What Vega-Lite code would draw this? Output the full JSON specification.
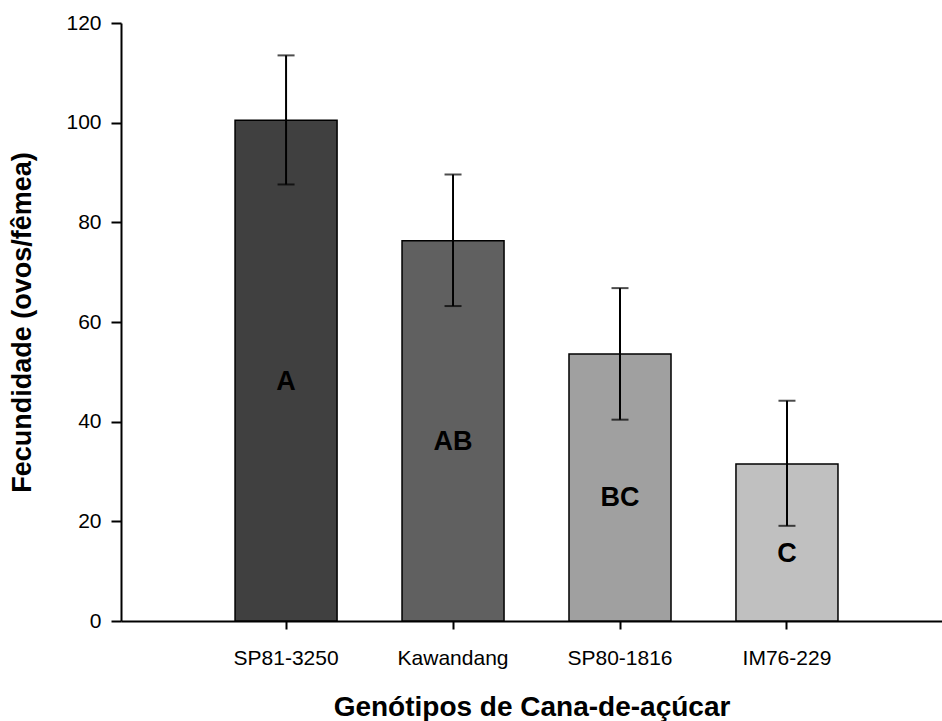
{
  "$schema": "https://vega.github.io/schema/vega-lite/v6.json",
  "width": 821,
  "height": 598,
  "autosize": {"type": "none"},
  "padding": {"left": 121, "top": 23, "right": 0, "bottom": 100},
  "background": "white",
  "config": {
    "view": {"stroke": null},
    "font": "Liberation Sans",
    "axis": {
      "grid": false,
      "domainColor": "black",
      "domainWidth": 2,
      "tickColor": "black",
      "tickWidth": 2,
      "labelColor": "black",
      "titleColor": "black",
      "labelFont": "Liberation Sans",
      "titleFont": "Liberation Sans"
    }
  },
  "data": {
    "values": [
      {"genotipo": "SP81-3250", "fecundidade": 100.5, "lower": 87.6, "upper": 113.5, "letra": "A"},
      {"genotipo": "Kawandang", "fecundidade": 76.3, "lower": 63.2, "upper": 89.6, "letra": "AB"},
      {"genotipo": "SP80-1816", "fecundidade": 53.6, "lower": 40.4, "upper": 66.8, "letra": "BC"},
      {"genotipo": "IM76-229", "fecundidade": 31.5, "lower": 19.1, "upper": 44.2, "letra": "C"}
    ]
  },
  "encoding": {
    "x": {
      "field": "genotipo",
      "type": "nominal",
      "sort": null,
      "scale": {"paddingInner": 0.389, "paddingOuter": 0.653, "align": 0.523},
      "axis": {
        "title": "Genótipos de Cana-de-açúcar",
        "labelAngle": 0,
        "labelFontSize": 21,
        "labelPadding": 18,
        "tickSize": 8,
        "titleFontSize": 28,
        "titleFontWeight": "bold",
        "titlePadding": 25
      }
    }
  },
  "layer": [
    {
      "mark": {"type": "bar", "stroke": "black", "strokeWidth": 1.5},
      "encoding": {
        "y": {
          "field": "fecundidade",
          "type": "quantitative",
          "scale": {"domain": [0, 120]},
          "axis": {
            "title": "Fecundidade (ovos/fêmea)",
            "values": [0, 20, 40, 60, 80, 100, 120],
            "labelFontSize": 21,
            "labelPadding": 10,
            "tickSize": 10,
            "titleFontSize": 27,
            "titleFontWeight": "bold",
            "titlePadding": 29
          }
        },
        "color": {
          "field": "genotipo",
          "type": "nominal",
          "sort": null,
          "scale": {
            "domain": ["SP81-3250", "Kawandang", "SP80-1816", "IM76-229"],
            "range": ["#404040", "#606060", "#a0a0a0", "#c0c0c0"]
          },
          "legend": null
        }
      }
    },
    {
      "mark": {"type": "rule", "color": "black", "strokeWidth": 2},
      "encoding": {
        "y": {"field": "lower", "type": "quantitative"},
        "y2": {"field": "upper"}
      }
    },
    {
      "mark": {"type": "tick", "color": "black", "thickness": 2, "size": 17, "orient": "horizontal"},
      "encoding": {
        "y": {"field": "lower", "type": "quantitative"}
      }
    },
    {
      "mark": {"type": "tick", "color": "black", "thickness": 2, "size": 17, "orient": "horizontal"},
      "encoding": {
        "y": {"field": "upper", "type": "quantitative"}
      }
    },
    {
      "transform": [{"calculate": "datum.fecundidade / 2", "as": "meio"}],
      "mark": {"type": "text", "fontSize": 27, "fontWeight": "bold", "color": "black", "baseline": "middle", "dy": 11},
      "encoding": {
        "y": {"field": "meio", "type": "quantitative"},
        "text": {"field": "letra"}
      }
    }
  ]
}
